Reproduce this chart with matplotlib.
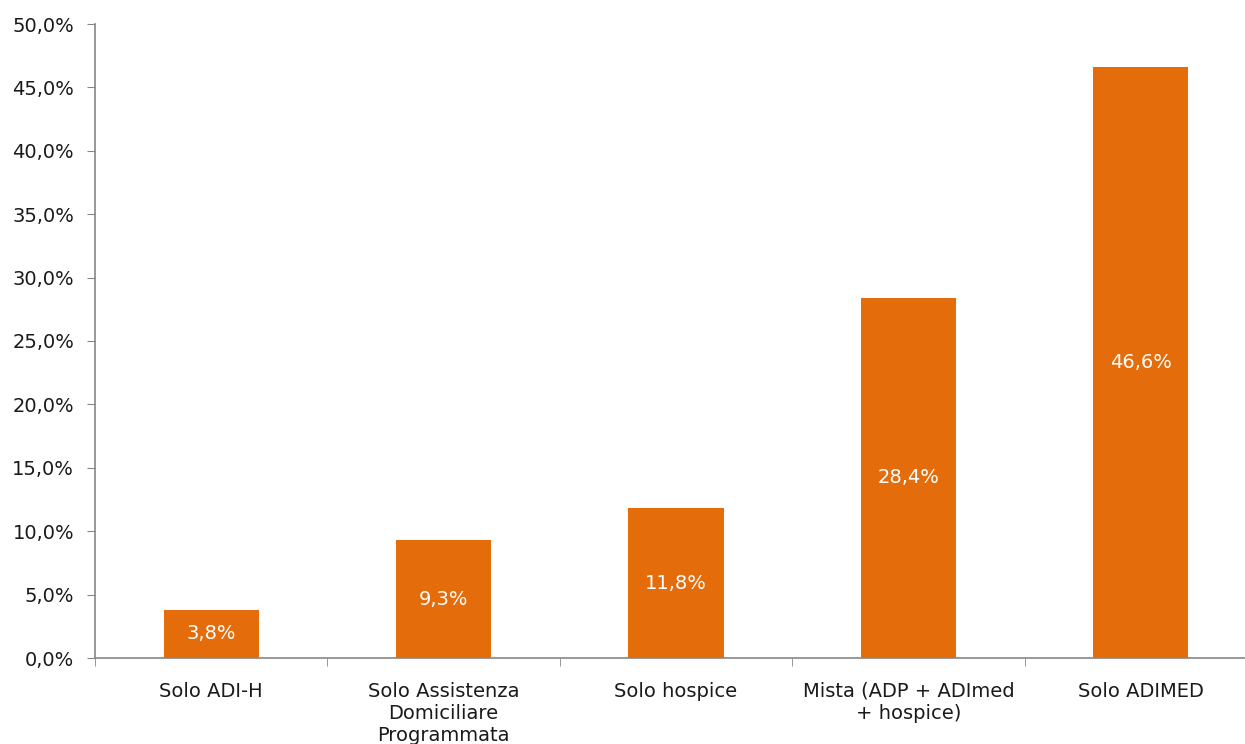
import numpy as np
import matplotlib
matplotlib.use('Agg')
import matplotlib.pyplot as plt
from matplotlib.ticker import FuncFormatter, FixedLocator

# Data
categories = ['Solo ADI-H', 'Solo Assistenza\nDomiciliare\nProgrammata', 'Solo hospice',
              'Mista (ADP + ADImed\n+ hospice)', 'Solo ADIMED']
values = [3.8, 9.3, 11.8, 28.4, 46.6]
y_ticks = [0, 5, 10, 15, 20, 25, 30, 35, 40, 45, 50]

bar_color = '#E46C0A'
axis_color = '#868686'
text_color = '#1a1a1a'

plt.rcParams['font.family'] = ['DejaVu Sans']

W, H = 1245, 744
fig = plt.figure(figsize=(W / 100, H / 100), dpi=100)
# axes runs past the right edge like the cropped original
ax = fig.add_axes([95 / W, (H - 658) / H, 1162 / W, (658 - 24) / H])

x = np.arange(len(categories))
ax.bar(x, values, width=0.41, color=bar_color, zorder=2)

for xi, v in zip(x, values):
    ax.text(xi, v / 2, f'{v:.1f}%'.replace('.', ','), ha='center', va='center',
            color='white', fontsize=14)

ax.set_xlim(-0.5, len(categories) - 0.5)
ax.set_ylim(0, 50)
ax.set_yticks(y_ticks)
ax.yaxis.set_major_formatter(FuncFormatter(lambda v, p: f'{v:.1f}%'.replace('.', ',')))

ax.set_xticks(x)
ax.set_xticklabels(categories, fontsize=14, linespacing=1.2, color=text_color)
ax.xaxis.set_minor_locator(FixedLocator(np.arange(-0.5, len(categories), 1.0)))
ax.tick_params(axis='x', which='major', length=0, pad=17)
ax.tick_params(axis='x', which='minor', length=6, color=axis_color, direction='out')
ax.tick_params(axis='y', length=6, color=axis_color, labelsize=14, pad=9, labelcolor=text_color)

for side in ['top', 'right']:
    ax.spines[side].set_visible(False)
for side in ['left', 'bottom']:
    ax.spines[side].set_color(axis_color)
    ax.spines[side].set_linewidth(1.2)

fig.savefig('out.png', dpi=100)
